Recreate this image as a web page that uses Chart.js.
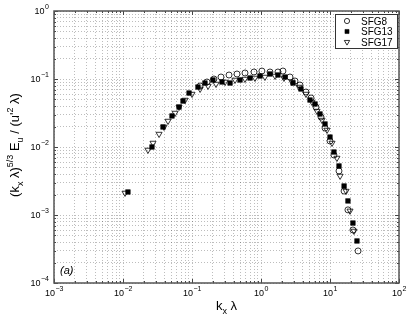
<!DOCTYPE html>
<html><head><meta charset="utf-8">
<script src="https://cdn.jsdelivr.net/npm/chart.js@4/dist/chart.umd.min.js"></script>
<style>html,body{margin:0;padding:0;background:#fff;}#wrap{width:409px;height:318px;position:relative;}</style>
</head><body><div id="wrap"><canvas id="c" width="409" height="318"></canvas></div>
<script>
// ---- data ----
const seriesNames = ['SFG8', 'SFG13', 'SFG17'];

const sfg8_k = [0.131,0.165,0.208,0.263,0.344,0.449,0.586,0.792,1.03,1.35,1.76,2.08,2.63,3.11,3.67,4.49,5.31,6.27,7.41,8.47,10.0,11.4,13.5,16.0,18.2,21.5,25.5];
const sfg8_E = [0.0789,0.0904,0.100,0.107,0.1145,0.1185,0.1226,0.1268,0.131,0.1268,0.1268,0.131,0.107,0.0935,0.0816,0.0644,0.0526,0.0387,0.0276,0.0190,0.01225,0.00762,0.00444,0.00225,0.00119,0.000602,0.000296];

const sfg13_k = [0.0118,0.0263,0.0380,0.0513,0.0649,0.0741,0.0906,0.122,0.154,0.201,0.272,0.356,0.497,0.694,0.968,1.35,1.76,2.23,2.91,3.80,5.13,6.07,7.16,8.47,10.0,11.4,13.5,16.0,18.2,21.5,24.6];
const sfg13_E = [0.00218,0.0100,0.0197,0.0286,0.0387,0.0474,0.0622,0.0762,0.0873,0.0967,0.0904,0.0873,0.0967,0.1035,0.1107,0.1185,0.1145,0.107,0.0873,0.0713,0.0491,0.0429,0.0306,0.0218,0.0140,0.00844,0.00526,0.00267,0.00161,0.000762,0.000415];

const sfg17_k = [0.0107,0.0230,0.0272,0.0333,0.0393,0.0449,0.0568,0.0649,0.0793,0.100,0.131,0.171,0.223,0.301,0.420,0.586,0.818,1.14,1.60,2.15,2.81,3.56,4.49,5.48,6.49,7.66,9.06,10.7,12.6,14.0,17.1,19.5,22.3];
const sfg17_E = [0.00211,0.00904,0.01145,0.0155,0.0197,0.0241,0.0316,0.0387,0.0491,0.0601,0.0713,0.0789,0.0844,0.0904,0.0967,0.100,0.1035,0.107,0.1107,0.1035,0.0904,0.0762,0.0601,0.0459,0.0338,0.0249,0.0178,0.01145,0.00689,0.00375,0.00225,0.00115,0.000582];

const xTickExponents = ['-3','-2','-1','0','1','2'];
const yTickExponents = ['-4','-3','-2','-1','0'];
const panelLabel = '(a)';

// ---- build chart ----
function pts(k, e) { return k.map((v, i) => ({x: v, y: e[i]})); }
function logTicks(lo, hi) {
  const t = [];
  for (let p = lo; p < hi; p++) for (let m = 1; m < 10; m++) t.push({value: m * Math.pow(10, p)});
  t.push({value: Math.pow(10, hi)});
  return t;
}
const FONT = '"Liberation Sans", Arial, Helvetica, sans-serif';

const datasets = [
  {label: seriesNames[0], data: pts(sfg8_k, sfg8_E), pointStyle: 'circle', pointRadius: 3.0,
   pointBorderColor: '#000', pointBackgroundColor: 'rgba(0,0,0,0)', pointBorderWidth: 0.8, showLine: false},
  {label: seriesNames[1], data: pts(sfg13_k, sfg13_E), pointStyle: 'rect', pointRadius: 3.3,
   pointBorderColor: '#000', pointBackgroundColor: '#000', pointBorderWidth: 0.5, showLine: false},
  {label: seriesNames[2], data: pts(sfg17_k, sfg17_E), pointStyle: 'triangle', pointRotation: 180, pointRadius: 3.5,
   pointBorderColor: '#000', pointBackgroundColor: 'rgba(0,0,0,0)', pointBorderWidth: 0.8, showLine: false}
];

function richText(ctx, parts, x, y, align) {
  // parts: [text, kind] kind: 0 normal, 1 sub, 2 sup
  const big = '13px ' + FONT, small = '9px ' + FONT;
  let w = 0;
  parts.forEach(p => { ctx.font = p[1] ? small : big; w += ctx.measureText(p[0]).width; });
  let cx = align === 'center' ? x - w / 2 : x;
  parts.forEach(p => {
    ctx.font = p[1] ? small : big;
    const dy = p[1] === 1 ? 3.5 : (p[1] === 2 ? -6 : 0);
    ctx.fillText(p[0], cx, y + dy);
    cx += ctx.measureText(p[0]).width;
  });
}

const decor = {
  id: 'decor',
  afterDraw(chart) {
    const ctx = chart.ctx, a = chart.chartArea;
    const xs = chart.scales.x, ys = chart.scales.y;
    ctx.save();
    // inward ticks on all four sides
    ctx.strokeStyle = '#444'; ctx.lineWidth = 1;
    ctx.beginPath();
    xs.ticks.forEach(t => {
      const px = Math.round(xs.getPixelForValue(t.value)) + 0.5;
      const major = Math.abs(Math.log10(t.value) % 1) < 1e-9;
      const L = major ? 4 : 2;
      ctx.moveTo(px, a.bottom); ctx.lineTo(px, a.bottom - L);
      ctx.moveTo(px, a.top); ctx.lineTo(px, a.top + L);
    });
    ys.ticks.forEach(t => {
      const py = Math.round(ys.getPixelForValue(t.value)) + 0.5;
      const major = Math.abs(Math.log10(t.value) % 1) < 1e-9;
      const L = major ? 4 : 2;
      ctx.moveTo(a.left, py); ctx.lineTo(a.left + L, py);
      ctx.moveTo(a.right, py); ctx.lineTo(a.right - L, py);
    });
    ctx.stroke();
    // frame
    ctx.strokeStyle = '#555'; ctx.lineWidth = 1.5;
    ctx.strokeRect(a.left, a.top, a.right - a.left, a.bottom - a.top);

    // tick labels 10^n
    ctx.fillStyle = '#000'; ctx.textBaseline = 'alphabetic'; ctx.textAlign = 'left';
    const bigF = '9px ' + FONT, supF = '7px ' + FONT;
    const expTxt = e => e.replace('-', '\u2212');
    xTickExponents.forEach(e => {
      const px = xs.getPixelForValue(Math.pow(10, +e));
      ctx.font = bigF; const w1 = ctx.measureText('10').width;
      ctx.font = supF; const w2 = ctx.measureText(expTxt(e)).width;
      const x0 = px - (w1 + w2) / 2;
      ctx.font = bigF; ctx.fillText('10', x0, a.bottom + 13);
      ctx.font = supF; ctx.fillText(expTxt(e), x0 + w1 + 0.5, a.bottom + 8);
    });
    yTickExponents.forEach(e => {
      const py = ys.getPixelForValue(Math.pow(10, +e));
      ctx.font = supF; const w2 = ctx.measureText(expTxt(e)).width;
      ctx.font = bigF; const w1 = ctx.measureText('10').width;
      const xr = a.left - 5;
      ctx.fillText('10', xr - w2 - w1 - 0.5, py + 3);
      ctx.font = supF; ctx.fillText(expTxt(e), xr - w2, py - 2);
    });

    // axis titles
    richText(ctx, [['k',0],['x',1],[' \u03bb',0]], (a.left + a.right) / 2, 310, 'center');
    ctx.save();
    ctx.translate(19, (a.top + a.bottom) / 2 - 2);
    ctx.rotate(-Math.PI / 2);
    richText(ctx, [['(k',0],['x',1],[' \u03bb)',0],['5/3',2],[' E',0],['u',1],[' / (u\'',0],['2',2],[' \u03bb)',0]], 0, 0, 'center');
    ctx.restore();

    // panel label
    ctx.font = 'italic 11px ' + FONT;
    ctx.fillText(panelLabel, a.left + 6, a.bottom - 9);

    // legend
    const lx = 335, ly = 14, lw = 62, lh = 34;
    ctx.fillStyle = '#fff'; ctx.fillRect(lx, ly, lw, lh);
    ctx.strokeStyle = '#333'; ctx.lineWidth = 1;
    ctx.strokeRect(lx + 0.5, ly + 0.5, lw, lh);
    chart.data.datasets.forEach((ds, i) => {
      const yy = ly + 7 + i * 10.5;
      ctx.fillStyle = ds.pointBackgroundColor; ctx.strokeStyle = ds.pointBorderColor;
      ctx.lineWidth = ds.pointBorderWidth;
      Chart.helpers.drawPoint(ctx, {pointStyle: ds.pointStyle, radius: ds.pointRadius - 0.4, rotation: ds.pointRotation || 0, borderWidth: ds.pointBorderWidth}, 347, yy);
      ctx.fillStyle = '#000'; ctx.font = '10px ' + FONT;
      ctx.fillText(ds.label, 361, yy + 3.5);
    });
    ctx.restore();
  }
};

const gridOpts = {color: 'rgba(0,0,0,0.26)', lineWidth: 1, drawTicks: false};
new Chart(document.getElementById('c'), {
  type: 'scatter',
  data: {datasets},
  options: {
    responsive: false, animation: false,
    layout: {padding: {top: 11, right: 10, left: 0, bottom: 0}},
    plugins: {legend: {display: false}, tooltip: {enabled: false}},
    scales: {
      x: {type: 'logarithmic', min: 1e-3, max: 1e2,
          afterBuildTicks: s => { s.ticks = logTicks(-3, 2); },
          afterFit: s => { s.height = 35; },
          ticks: {display: false, autoSkip: false},
          grid: gridOpts, border: {display: false, dash: [1, 2]}},
      y: {type: 'logarithmic', min: 1e-4, max: 1,
          afterBuildTicks: s => { s.ticks = logTicks(-4, 0); },
          afterFit: s => { s.width = 54; },
          ticks: {display: false, autoSkip: false},
          grid: gridOpts, border: {display: false, dash: [1, 2]}}
    }
  },
  plugins: [decor]
});
</script>
</body></html>
